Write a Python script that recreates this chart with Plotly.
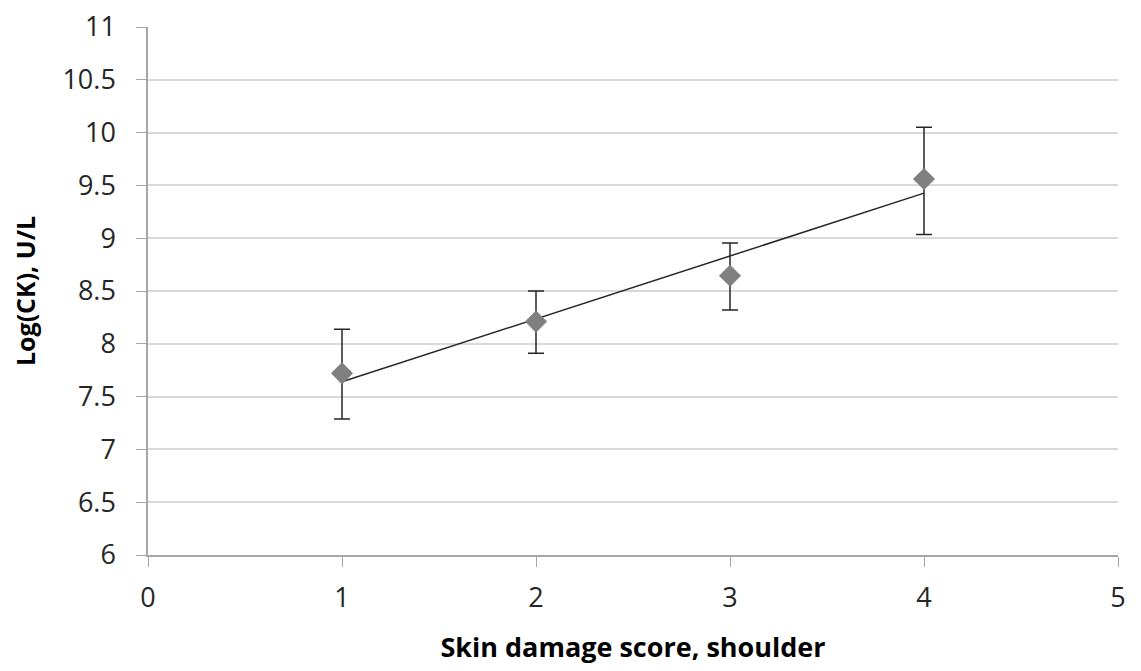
import numpy as np
import plotly.graph_objects as go

scores = [1, 2, 3, 4]
log_ck = [7.72, 8.21, 8.645, 9.56]
err_upper = [8.137, 8.50, 8.955, 10.05]
err_lower = [7.288, 7.91, 8.32, 9.035]

x_ticks = [0, 1, 2, 3, 4, 5]
y_ticks = [6, 6.5, 7, 7.5, 8, 8.5, 9, 9.5, 10, 10.5, 11]
y_tick_text = ["6", "6.5", "7", "7.5", "8", "8.5", "9", "9.5", "10", "10.5", "11"]

plus = [u - v for u, v in zip(err_upper, log_ck)]
minus = [v - l for v, l in zip(log_ck, err_lower)]

slope, intercept = np.polyfit(scores, log_ck, 1)
trend_x = [scores[0], scores[-1]]
trend_y = [slope * x + intercept for x in trend_x]

fig = go.Figure()
fig.add_trace(go.Scatter(
    x=trend_x, y=trend_y, mode="lines",
    line=dict(color="#262626", width=1.5),
    showlegend=False,
))
fig.add_trace(go.Scatter(
    x=scores, y=log_ck, mode="markers",
    marker=dict(symbol="diamond", size=17, color="#808080"),
    error_y=dict(type="data", symmetric=False, array=plus, arrayminus=minus,
                 color="#262626", thickness=1.5, width=8),
    showlegend=False,
))

font_family = "Open Sans, Liberation Sans, sans-serif"
fig.update_layout(
    width=1141, height=671,
    margin=dict(l=148, r=23, t=27, b=116),
    plot_bgcolor="white", paper_bgcolor="white",
    font=dict(family=font_family, size=27, color="#262626"),
    xaxis=dict(
        range=[0, 5], tickvals=x_ticks, showgrid=False, zeroline=False,
        showline=True, linecolor="#a6a6a6", linewidth=1.5,
        ticks="outside", ticklen=10, tickcolor="#a6a6a6",
        ticklabelstandoff=8, automargin=False,
        tickfont=dict(size=27, color="#262626"),
        title=dict(text="<b>Skin damage score, shoulder</b>", font=dict(size=27, color="#000000"), standoff=24),
    ),
    yaxis=dict(
        range=[6, 11], tickvals=y_ticks, ticktext=y_tick_text,
        showgrid=True, gridcolor="#d9d9d9", gridwidth=1.5, zeroline=False,
        showline=True, linecolor="#a6a6a6", linewidth=1.5,
        ticks="outside", ticklen=10, tickcolor="#a6a6a6",
        ticklabelstandoff=15, automargin=False,
        tickfont=dict(size=27, color="#262626"),
        title=dict(text="<b>Log(CK), U/L</b>", font=dict(size=25, color="#000000"), standoff=20),
    ),
)

fig.write_html("out.html")
